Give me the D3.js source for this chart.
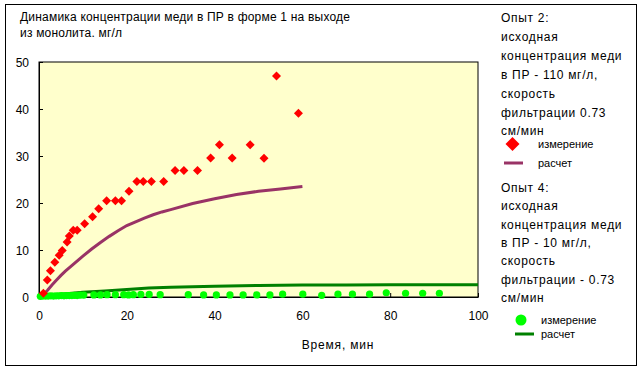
<!DOCTYPE html>
<html><head><meta charset="utf-8">
<script src="https://cdn.jsdelivr.net/npm/d3@7"></script>
<style>
body{margin:0;background:#fff;}
svg{display:block;font-family:"Liberation Sans",Arial,sans-serif;}
</style></head>
<body><svg id="c" width="642" height="370"></svg>
<script>
// Опыт 2 – измерение (время, мин; концентрация, мг/л)
const exp2Time = [1,1.9,2.6,3.6,4.6,5.3,6.4,6.9,7.8,8.7,10.4,12.2,13.6,15.4,17.4,18.8,20.5,22.3,23.75,25.6,28.4,31,33,36.1,39.1,41.1,44,48.1,51.25,54.1,59.1];
const exp2Meas = [0.8,3.6,5.6,7.4,8.9,9.9,11.7,13,14.2,14.2,15.6,17.1,18.8,20.5,20.5,20.5,22.5,24.6,24.6,24.6,24.6,26.9,26.9,26.9,29.6,32.4,29.6,32.4,29.5,47,39.1];
// Опыт 2 – расчет
const exp2CalcTime = [0,1,2,3,4,5,6,7,8,10,12,14,16,18,20,22,24,26,28,30,35,40,45,50,55,60];
const exp2Calc = [0,0.5,1.5,2.6,3.6,4.6,5.5,6.3,7.1,8.7,10.2,11.6,12.9,14.1,15.2,16.0,16.8,17.5,18.1,18.6,19.9,20.9,21.8,22.5,23.0,23.5];
// Опыт 4 – измерение
const exp4Time = [0.3,0.9,1.5,2.1,2.7,3.3,3.9,4.5,5.1,5.7,6.3,6.9,7.5,8.1,8.7,9.4,10.2,12.5,14,15.5,17.4,19.3,20.4,21.5,23.2,25.1,27.6,34,37.5,40.4,43.5,46.5,49.6,52.6,55.5,60.1,64.4,68.1,71.4,75.3,79.1,83.5,87.4,91.2];
const exp4Meas = [0.15,0.2,0.2,0.2,0.25,0.2,0.25,0.25,0.3,0.25,0.3,0.3,0.3,0.35,0.3,0.4,0.4,0.45,0.45,0.5,0.5,0.5,0.45,0.5,0.55,0.55,0.5,0.5,0.45,0.45,0.45,0.45,0.45,0.45,0.6,0.6,0.35,0.6,0.6,0.6,0.9,0.8,0.8,0.8];
// Опыт 4 – расчет
const exp4CalcTime = [0,2,5,10,15,20,25,30,40,50,60,70,80,100];
const exp4Calc = [0,0.3,0.6,1.0,1.3,1.6,1.9,2.1,2.3,2.45,2.55,2.57,2.58,2.6];
// Оси
const xTicks = [0,20,40,60,80,100];
const yTicks = [0,10,20,30,40,50];

const titleLines = ["Динамика концентрации меди в ПР в форме 1 на выходе","из монолита. мг/л"];
const legend2Lines = ["Опыт 2:","исходная","концентрация меди","в ПР - 110 мг/л,","скорость","фильтрации 0.73","см/мин"];
const legend4Lines = ["Опыт 4:","исходная","концентрация меди","в ПР - 10 мг/л,","скорость","фильтрации - 0.73","см/мин"];
const xLabel = "Время, мин";

const svg = d3.select("#c");
const L=39, R=478, T=62, B=297;
const x = d3.scaleLinear().domain([0,100]).range([L,R]);
const y = d3.scaleLinear().domain([0,50]).range([B,T]);

svg.append("rect").attr("x",5.5).attr("y",4.5).attr("width",631).attr("height",361)
  .attr("fill","#fff").attr("stroke","#000");

svg.append("rect").attr("x",L).attr("y",T).attr("width",R-L).attr("height",B-T)
  .attr("fill","#FFFFCC").attr("stroke","#000").attr("stroke-width",1);

// axes
const xAxis = d3.axisBottom(x).tickValues(xTicks).tickSizeInner(-4).tickSizeOuter(0).tickPadding(14);
const yAxis = d3.axisLeft(y).tickValues(yTicks).tickSizeInner(-4).tickSizeOuter(0).tickPadding(10);
const gx = svg.append("g").attr("transform",`translate(0,${B})`).call(xAxis);
const gy = svg.append("g").attr("transform",`translate(${L},0)`).call(yAxis);
[gx,gy].forEach(g=>{
  g.selectAll("text").attr("font-size",12).attr("fill","#000").attr("font-family","Liberation Sans, Arial, sans-serif");
  g.selectAll("line").attr("stroke","#000");
  g.select(".domain").attr("stroke","#000");
});
gy.selectAll("text").attr("dy","0.35em");

// lines
const line = d3.line().x(d=>x(d[0])).y(d=>y(d[1]));
svg.append("path").datum(exp4CalcTime.map((t,i)=>[t,exp4Calc[i]]))
  .attr("d",line).attr("fill","none").attr("stroke","#008000").attr("stroke-width",3);
svg.append("path").datum(exp2CalcTime.map((t,i)=>[t,exp2Calc[i]]))
  .attr("d",line).attr("fill","none").attr("stroke","#993366").attr("stroke-width",3);

// markers
const diamond = "M0,-4.5L4.5,0L0,4.5L-4.5,0Z";
svg.append("g").selectAll("circle").data(exp4Time.map((t,i)=>[t,exp4Meas[i]])).join("circle")
  .attr("cx",d=>x(d[0])).attr("cy",d=>y(d[1])).attr("r",3.6).attr("fill","#00FF00");
svg.append("g").selectAll("path").data(exp2Time.map((t,i)=>[t,exp2Meas[i]])).join("path")
  .attr("d",diamond).attr("transform",d=>`translate(${x(d[0])},${y(d[1])})`).attr("fill","#FF0000");

// title
svg.append("g").selectAll("text").data(titleLines).join("text")
  .attr("x",20).attr("y",(d,i)=>20.5+i*16).attr("font-size",12).attr("letter-spacing",0.2).text(d=>d);

// x label
svg.append("text").attr("x",338).attr("y",349).attr("text-anchor","middle")
  .attr("font-size",12).attr("letter-spacing",0.8).text(xLabel);

// legends
function block(lines, y0, dy){
  svg.append("g").selectAll("text").data(lines).join("text")
    .attr("x",501).attr("y",(d,i)=>y0+i*dy).attr("font-size",12).attr("letter-spacing",0.7).text(d=>d);
}
block(legend2Lines, 22, 18.9);
block(legend4Lines, 192, 18.3);

svg.append("path").attr("d","M0,-7L7,0L0,7L-7,0Z").attr("transform","translate(512.5,144)").attr("fill","#FF0000");
svg.append("text").attr("x",538).attr("y",148).attr("font-size",11).text("измерение");
svg.append("line").attr("x1",504).attr("x2",523).attr("y1",163).attr("y2",163).attr("stroke","#993366").attr("stroke-width",3);
svg.append("text").attr("x",538).attr("y",167).attr("font-size",11).text("расчет");

svg.append("circle").attr("cx",521).attr("cy",320).attr("r",5.5).attr("fill","#00FF00");
svg.append("text").attr("x",541).attr("y",324).attr("font-size",11).text("измерение");
svg.append("line").attr("x1",515).attr("x2",534).attr("y1",334).attr("y2",334).attr("stroke","#008000").attr("stroke-width",3);
svg.append("text").attr("x",541).attr("y",338).attr("font-size",11).text("расчет");
</script></body></html>
